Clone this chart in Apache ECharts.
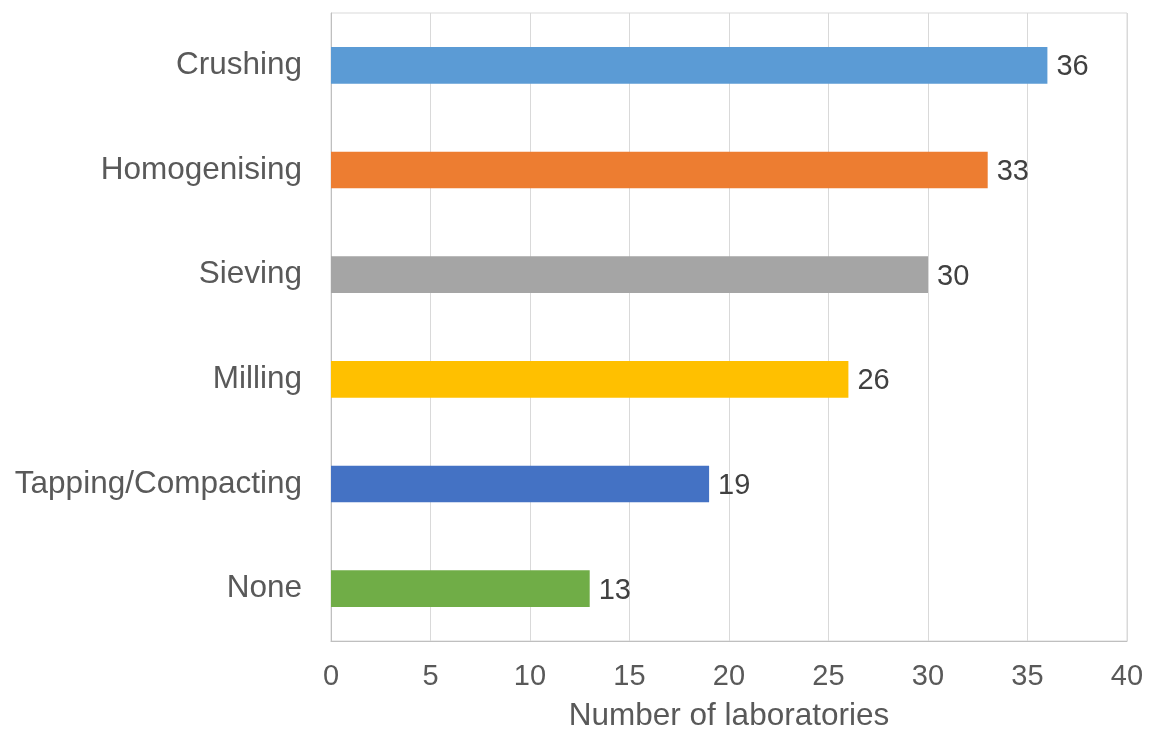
<!DOCTYPE html>
<html>
<head>
<meta charset="utf-8">
<script src="https://cdn.jsdelivr.net/npm/echarts@6/dist/echarts.min.js"></script>
<style>
  html, body { margin: 0; padding: 0; background: #fff; }
  #chart { width: 1149px; height: 729px; }
</style>
</head>
<body>
<div id="chart"></div>
<script>
// Sample preparation methods and how many laboratories use each
const categories = ['Crushing', 'Homogenising', 'Sieving', 'Milling', 'Tapping/Compacting', 'None'];
const labCounts = [36, 33, 30, 26, 19, 13];
const barColors = ['#5B9BD5', '#ED7D31', '#A5A5A5', '#FFC000', '#4472C4', '#70AD47'];
const xTicks = [0, 5, 10, 15, 20, 25, 30, 35, 40];

const font = 'Liberation Sans, Arial, sans-serif';
const chart = echarts.init(document.getElementById('chart'));

chart.setOption({
  animation: false,
  backgroundColor: '#ffffff',
  grid: {
    left: 331, right: 22, top: 13, bottom: 88,
    show: true, borderColor: '#d9d9d9', borderWidth: 1,
    containLabel: false,
    outerBoundsMode: 'none'
  },
  xAxis: {
    type: 'value',
    min: xTicks[0],
    max: xTicks[xTicks.length - 1],
    interval: xTicks[1] - xTicks[0],
    name: 'Number of laboratories',
    nameLocation: 'middle',
    nameGap: 59,
    nameTextStyle: { color: '#595959', fontSize: 31.5, fontFamily: font },
    axisLine: { show: true, lineStyle: { color: '#bfbfbf', width: 1 } },
    axisTick: { show: false },
    axisLabel: { color: '#595959', fontSize: 29, fontFamily: font, margin: 21 },
    splitLine: { show: true, lineStyle: { color: '#d9d9d9', width: 1 } }
  },
  yAxis: {
    type: 'category',
    data: categories,
    inverse: true,
    axisLine: { show: true, lineStyle: { color: '#bfbfbf', width: 1 } },
    axisTick: { show: false },
    axisLabel: { color: '#595959', fontSize: 31.5, fontFamily: font, margin: 29 },
    splitLine: { show: false }
  },
  series: [{
    type: 'bar',
    data: labCounts.map((v, i) => ({ value: v, itemStyle: { color: barColors[i] } })),
    barWidth: '35%',
    label: {
      show: true,
      position: 'right',
      distance: 9,
      offset: [0, 2],
      color: '#404040',
      fontSize: 29,
      fontFamily: font
    }
  }]
});
</script>
</body>
</html>
